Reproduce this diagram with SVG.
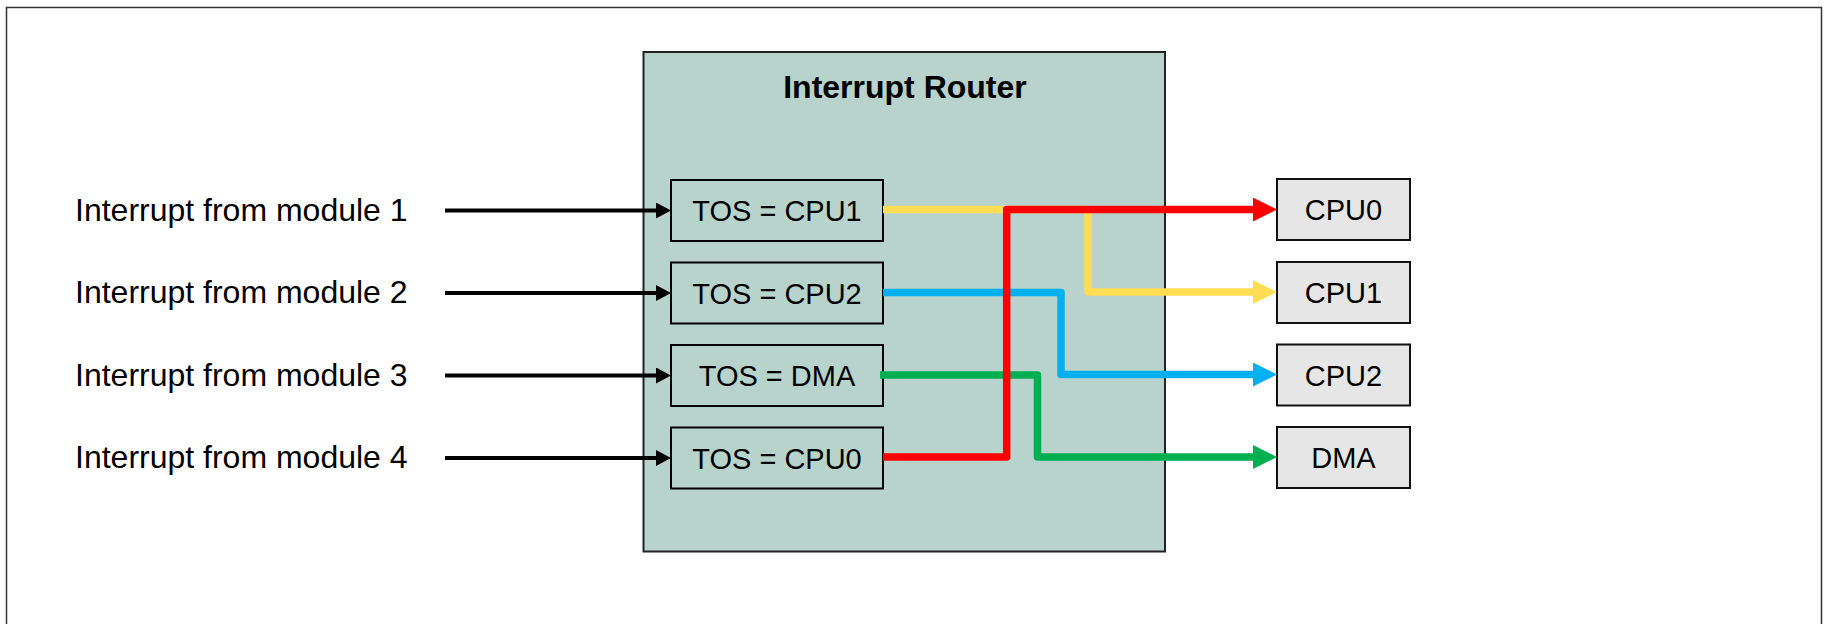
<svg xmlns="http://www.w3.org/2000/svg" width="1825" height="624" viewBox="0 0 1825 624">
<style>
  .lbl { font-family: "Liberation Sans", Arial, sans-serif; font-size: 32px; fill: #000; }
  .box { font-family: "Liberation Sans", Arial, sans-serif; font-size: 29px; fill: #000; text-anchor: middle; }
  .title { font-family: "Liberation Sans", Arial, sans-serif; font-size: 32px; font-weight: bold; fill: #000; text-anchor: middle; }
  .tos { fill: #b7d3cb; stroke: #000; stroke-width: 2; }
  .dst { fill: #e7e6e6; stroke: #111; stroke-width: 2; }
  .in { fill: none; stroke: #000; stroke-width: 4; }
  .route { fill: none; stroke-width: 7.5; stroke-linejoin: round; }
</style>
<defs>
  <marker id="ahBlack" markerUnits="userSpaceOnUse" markerWidth="15" markerHeight="16" refX="1" refY="8" orient="auto">
    <path d="M0,0 L15,8 L0,16 z" fill="#000"/>
  </marker>
  <marker id="ahRed" markerUnits="userSpaceOnUse" markerWidth="24" markerHeight="24" refX="2" refY="12" orient="auto">
    <path d="M0,0 L24,12 L0,24 z" fill="#ff0000"/>
  </marker>
  <marker id="ahYellow" markerUnits="userSpaceOnUse" markerWidth="24" markerHeight="24" refX="2" refY="12" orient="auto">
    <path d="M0,0 L24,12 L0,24 z" fill="#ffdd55"/>
  </marker>
  <marker id="ahBlue" markerUnits="userSpaceOnUse" markerWidth="24" markerHeight="24" refX="2" refY="12" orient="auto">
    <path d="M0,0 L24,12 L0,24 z" fill="#00b0f0"/>
  </marker>
  <marker id="ahGreen" markerUnits="userSpaceOnUse" markerWidth="24" markerHeight="24" refX="2" refY="12" orient="auto">
    <path d="M0,0 L24,12 L0,24 z" fill="#00b050"/>
  </marker>
</defs>
<rect x="0" y="0" width="1825" height="624" fill="#ffffff"/>
<rect id="frame" x="6.5" y="7.5" width="1815" height="640" fill="none" stroke="#333" stroke-width="1.5"/>

<g id="router">
  <rect x="643.5" y="52" width="521.5" height="499.5" fill="#b7d3cb" stroke="#222" stroke-width="2"/>
  <text class="title" x="905" y="98">Interrupt Router</text>
</g>

<g id="label1"><text class="lbl" x="75" y="220.5">Interrupt from module 1</text></g>
<g id="label2"><text class="lbl" x="75" y="303">Interrupt from module 2</text></g>
<g id="label3"><text class="lbl" x="75" y="385.5">Interrupt from module 3</text></g>
<g id="label4"><text class="lbl" x="75" y="468">Interrupt from module 4</text></g>

<g id="tos1"><rect class="tos" x="671" y="180" width="212" height="61"/><text class="box" x="777" y="221">TOS = CPU1</text></g>
<g id="tos2"><rect class="tos" x="671" y="262.5" width="212" height="61"/><text class="box" x="777" y="303.5">TOS = CPU2</text></g>
<g id="tos3"><rect class="tos" x="671" y="345" width="212" height="61"/><text class="box" x="777" y="386">TOS = DMA</text></g>
<g id="tos4"><rect class="tos" x="671" y="427.5" width="212" height="61"/><text class="box" x="777" y="468.5">TOS = CPU0</text></g>

<g id="cpu0"><rect class="dst" x="1277" y="179" width="133" height="61"/><text class="box" x="1343.5" y="220">CPU0</text></g>
<g id="cpu1"><rect class="dst" x="1277" y="262" width="133" height="61"/><text class="box" x="1343.5" y="303">CPU1</text></g>
<g id="cpu2"><rect class="dst" x="1277" y="344.5" width="133" height="61"/><text class="box" x="1343.5" y="385.5">CPU2</text></g>
<g id="dma"><rect class="dst" x="1277" y="427" width="133" height="61"/><text class="box" x="1343.5" y="468">DMA</text></g>

<g id="connectors">
  <path class="in" d="M445,210.5 H657" marker-end="url(#ahBlack)"/>
  <path class="in" d="M445,293 H657" marker-end="url(#ahBlack)"/>
  <path class="in" d="M445,375.5 H657" marker-end="url(#ahBlack)"/>
  <path class="in" d="M445,458 H657" marker-end="url(#ahBlack)"/>

  <path class="route" stroke="#ffdd55" d="M883,209.5 H1088 V292 H1255" marker-end="url(#ahYellow)"/>
  <path class="route" stroke="#00b0f0" d="M883,292.5 H1061 V374.5 H1255" marker-end="url(#ahBlue)"/>
  <path class="route" stroke="#00b050" d="M880,375 H1037.5 V457 H1255" marker-end="url(#ahGreen)"/>
  <path class="route" stroke="#ff0000" d="M883,457 H1006.7 V209.5 H1255" marker-end="url(#ahRed)"/>
</g>
</svg>
